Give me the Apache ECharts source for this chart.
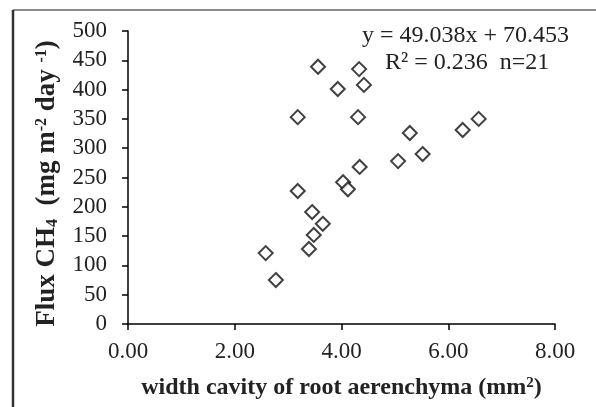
<!DOCTYPE html>
<html>
<head>
    <meta charset="utf-8">
    <title>Flux CH4 vs width cavity</title>
    <script src="https://cdn.jsdelivr.net/npm/echarts@6/dist/echarts.min.js"></script>
    <style>
        html, body { margin: 0; padding: 0; background: #fff; }
        #chart { width: 596px; height: 407px; }
    </style>
</head>
<body>
<div id="chart"></div>
<script>
    // width cavity of root aerenchyma (mm2) and CH4 flux
    var widthCavity = [3.56, 4.33, 3.93, 4.42, 3.18, 4.31, 5.28, 6.27, 6.57, 5.06, 5.52,
                       4.34, 4.03, 4.12, 3.18, 3.45, 3.65, 3.48, 3.39, 2.58, 2.77];
    var fluxCH4    = [439, 435, 401, 408, 353, 353, 326, 331, 350, 278, 290,
                       268, 242, 230, 227, 191, 171, 152, 128, 121, 75];
    var eqText = 'y = 49.038x + 70.453';
    var r2Text = 'R\u00b2 = 0.236  n=21';

    var points = [];
    for (var i = 0; i < widthCavity.length; i++) {
        points.push([widthCavity[i], fluxCH4[i]]);
    }

    var font = 'Liberation Serif';
    var chart = echarts.init(document.getElementById('chart'));
    var option = {
        animation: false,
        grid: { left: 128, right: 41, top: 31, bottom: 83 },
        xAxis: {
            type: 'value', min: 0, max: 8, interval: 2,
            splitLine: { show: false },
            axisLine: { show: true, onZero: false, lineStyle: { color: '#000', width: 1.5 } },
            axisTick: { show: true, length: 6, lineStyle: { color: '#000', width: 1.5 } },
            axisLabel: {
                margin: 16, color: '#222', fontFamily: font, fontSize: 23,
                formatter: function (v) { return v.toFixed(2); }
            },
            name: 'width cavity of root aerenchyma (mm{sup|2})',
            nameLocation: 'middle', nameGap: 52,
            nameTextStyle: {
                color: '#222', fontFamily: font, fontSize: 24, fontWeight: 'bold',
                rich: { sup: { fontSize: 15, fontWeight: 'bold', fontFamily: font, verticalAlign: 'top', color: '#222' } }
            }
        },
        yAxis: {
            type: 'value', min: 0, max: 500, interval: 50,
            splitLine: { show: false },
            axisLine: { show: true, lineStyle: { color: '#000', width: 1.5 } },
            axisTick: { show: true, length: 6, lineStyle: { color: '#000', width: 1.5 } },
            axisLabel: { margin: 21, color: '#222', fontFamily: font, fontSize: 23 },
            name: 'Flux CH{sub|4}  (mg m{sup|-2} day {sup|-1})',
            nameLocation: 'middle', nameGap: 67, nameRotate: 90,
            nameTextStyle: {
                color: '#222', fontFamily: font, fontSize: 27, fontWeight: 'bold',
                padding: [0, 12, 0, 0],
                rich: {
                    sub: { fontSize: 16, fontWeight: 'bold', fontFamily: font, verticalAlign: 'bottom', color: '#222' },
                    sup: { fontSize: 16, fontWeight: 'bold', fontFamily: font, verticalAlign: 'top', color: '#222' }
                }
            }
        },
        series: [{
            type: 'scatter',
            data: points,
            symbol: 'diamond',
            symbolSize: [14, 14],
            itemStyle: { color: '#fff', borderColor: '#111', borderWidth: 2 }
        }],
        graphic: [
            { type: 'line', shape: { x1: 13, y1: 10, x2: 596, y2: 10 }, style: { stroke: '#666', lineWidth: 1.5 } },
            { type: 'line', shape: { x1: 13, y1: 10, x2: 13, y2: 407 }, style: { stroke: '#333', lineWidth: 2.5 } },
            { type: 'text', left: 362, top: 24, style: { text: eqText, fill: '#222', font: '24px "Liberation Serif"' } },
            { type: 'text', left: 385, top: 51, style: { text: r2Text, fill: '#222', font: '24px "Liberation Serif"' } }
        ]
    };
    chart.setOption(option);
</script>
</body>
</html>
